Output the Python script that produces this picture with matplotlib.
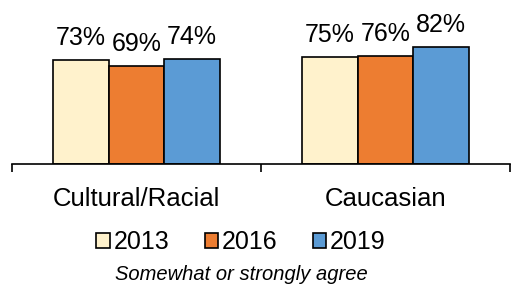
import numpy as np
import matplotlib
matplotlib.use('Agg')
import matplotlib.pyplot as plt
from matplotlib.patches import Patch

plt.rcParams['font.family'] = ['Liberation Sans', 'DejaVu Sans']

categories = ['Cultural/Racial', 'Caucasian']
years = ['2013', '2016', '2019']
values = {
    '2013': [73, 75],
    '2016': [69, 76],
    '2019': [74, 82],
}
colors = ['#FFF2CC', '#ED7D31', '#5B9BD5']
note = 'Somewhat or strongly agree'

fig = plt.figure(figsize=(5.2, 2.96), dpi=100)
ax = fig.add_axes([0.023, 0.446, 0.958, 0.48])

x = np.arange(len(categories))
w = 0.223
for i, yr in enumerate(years):
    pos = x + (i - 1) * w
    bars = ax.bar(pos, values[yr], w, color=colors[i], edgecolor='black', linewidth=1.2, label=yr)
    for b, v in zip(bars, values[yr]):
        ax.annotate(f'{v}%', (b.get_x() + b.get_width() / 2, v), xytext=(0, 11),
                    textcoords='offset points', ha='center', va='baseline', fontsize=18)

ax.set_xlim(-0.5, 1.5)
ax.set_ylim(0, 100)
for s in ['top', 'right', 'left']:
    ax.spines[s].set_visible(False)
ax.spines['bottom'].set_linewidth(1.2)
ax.set_yticks([])
ax.set_xticks([-0.5, 0.5, 1.5])
ax.set_xticklabels([])
ax.tick_params(axis='x', direction='out', length=6, width=1.2)
for xi, c in zip(x, categories):
    ax.annotate(c, (xi, 0), xytext=(0, -30.5), textcoords='offset points',
                ha='center', va='baseline', fontsize=18.5)

handles = [Patch(facecolor=c, edgecolor='black', linewidth=1.2) for c in colors]
fig.legend(handles, years, loc='center', bbox_to_anchor=(241 / 520, 1 - 242 / 296),
           ncol=3, frameon=False, fontsize=18, handlelength=0.55, handleheight=0.55,
           handletextpad=0.15, columnspacing=1.4, borderpad=0)
fig.text(241 / 520, 1 - 275 / 296, note, ha='center', va='center', fontsize=14.5, style='italic')

fig.savefig('out.png', dpi=100)
